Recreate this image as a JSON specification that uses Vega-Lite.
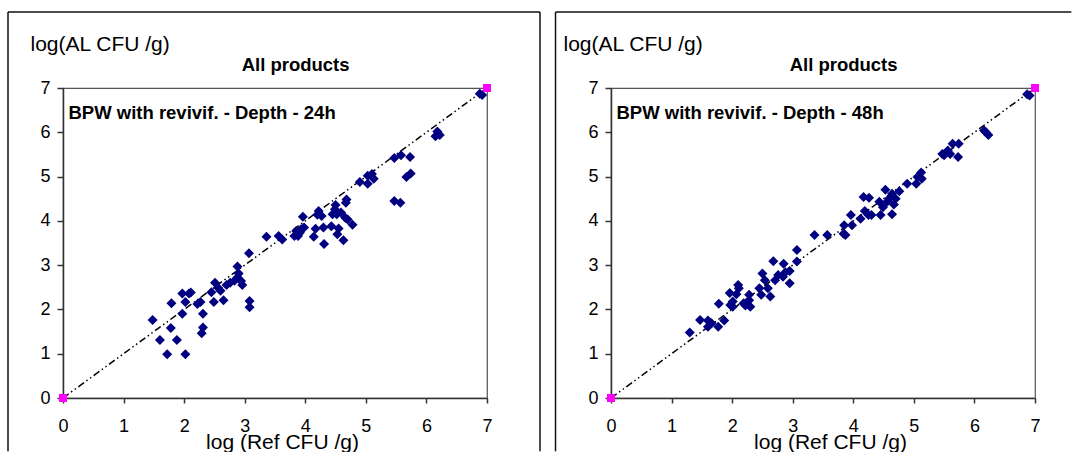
{
  "$schema": "https://vega.github.io/schema/vega-lite/v6.json",
  "background": "white",
  "padding": {"left": 6, "top": 10, "right": 0, "bottom": 0},
  "spacing": 12,
  "config": {
    "font": "Liberation Sans",
    "view": {"stroke": "#555", "strokeWidth": 1.2},
    "axis": {"grid": false, "domainColor": "#333", "domainWidth": 1.5, "tickColor": "#333", "tickWidth": 1.5, "labelFont": "Liberation Sans", "labelFontSize": 18, "labelColor": "#000", "titleFont": "Liberation Sans", "titleFontSize": 21, "titleFontWeight": "normal", "titleColor": "#000", "labelFlush": false, "labelOverlap": false, "format": "d"},
    "axisX": {"tickSize": 5, "labelPadding": 28, "labelBaseline": "alphabetic", "titleX": 219, "titleY": 50, "titleBaseline": "alphabetic", "titleAlign": "center"},
    "axisY": {"tickSize": 6, "labelPadding": 7, "titleAngle": 0, "titleAlign": "left", "titleBaseline": "alphabetic", "titleY": -38}
  },
  "datasets": {
    "d24": [
      {"ref":1.48,"al":1.76},{"ref":1.60,"al":1.31},{"ref":1.72,"al":0.99},{"ref":1.78,"al":1.58},{"ref":1.79,"al":2.14},{"ref":1.88,"al":1.31},{"ref":1.97,"al":1.90},{"ref":1.97,"al":2.36},{"ref":2.02,"al":0.99},{"ref":2.02,"al":2.17},{"ref":2.08,"al":2.36},{"ref":2.11,"al":2.38},{"ref":2.22,"al":2.12},{"ref":2.27,"al":2.17},{"ref":2.31,"al":1.90},{"ref":2.31,"al":1.59},{"ref":2.29,"al":1.46},{"ref":2.45,"al":2.39},{"ref":2.49,"al":2.17},{"ref":2.51,"al":2.60},{"ref":2.56,"al":2.49},{"ref":2.60,"al":2.42},{"ref":2.65,"al":2.21},{"ref":2.70,"al":2.55},{"ref":2.76,"al":2.60},{"ref":2.83,"al":2.65},{"ref":2.88,"al":2.97},{"ref":2.88,"al":2.72},{"ref":2.90,"al":2.81},{"ref":2.94,"al":2.64},{"ref":2.96,"al":2.55},{"ref":3.07,"al":3.27},{"ref":3.08,"al":2.19},{"ref":3.08,"al":2.05},{"ref":3.36,"al":3.64},{"ref":3.56,"al":3.66},{"ref":3.62,"al":3.58},{"ref":3.82,"al":3.66},{"ref":3.85,"al":3.77},{"ref":3.88,"al":3.66},{"ref":3.91,"al":3.73},{"ref":3.93,"al":3.81},{"ref":3.98,"al":3.85},{"ref":3.96,"al":4.09},{"ref":4.14,"al":3.64},{"ref":4.17,"al":3.82},{"ref":4.20,"al":4.14},{"ref":4.22,"al":4.22},{"ref":4.27,"al":4.11},{"ref":4.30,"al":3.85},{"ref":4.31,"al":3.48},{"ref":4.43,"al":3.88},{"ref":4.45,"al":4.15},{"ref":4.49,"al":4.26},{"ref":4.50,"al":4.36},{"ref":4.52,"al":4.15},{"ref":4.55,"al":3.83},{"ref":4.53,"al":3.70},{"ref":4.59,"al":4.19},{"ref":4.63,"al":3.56},{"ref":4.66,"al":4.07},{"ref":4.67,"al":4.41},{"ref":4.68,"al":4.48},{"ref":4.70,"al":4.03},{"ref":4.78,"al":3.91},{"ref":4.90,"al":4.88},{"ref":5.03,"al":5.02},{"ref":5.03,"al":4.84},{"ref":5.10,"al":5.06},{"ref":5.13,"al":4.95},{"ref":5.47,"al":5.42},{"ref":5.58,"al":5.48},{"ref":5.73,"al":5.44},{"ref":5.67,"al":4.99},{"ref":5.74,"al":5.07},{"ref":5.47,"al":4.45},{"ref":5.57,"al":4.41},{"ref":6.15,"al":5.91},{"ref":6.18,"al":6.02},{"ref":6.22,"al":5.94},{"ref":6.88,"al":6.87},{"ref":6.92,"al":6.84}
    ],
    "d48": [
      {"ref":1.30,"al":1.48},{"ref":1.47,"al":1.76},{"ref":1.60,"al":1.75},{"ref":1.60,"al":1.61},{"ref":1.66,"al":1.69},{"ref":1.77,"al":1.61},{"ref":1.78,"al":2.13},{"ref":1.87,"al":1.75},{"ref":1.96,"al":2.37},{"ref":1.97,"al":2.10},{"ref":2.01,"al":2.18},{"ref":2.01,"al":2.06},{"ref":2.10,"al":2.55},{"ref":2.11,"al":2.48},{"ref":2.07,"al":2.34},{"ref":2.19,"al":2.14},{"ref":2.22,"al":2.09},{"ref":2.28,"al":2.33},{"ref":2.28,"al":2.21},{"ref":2.30,"al":2.06},{"ref":2.45,"al":2.48},{"ref":2.48,"al":2.33},{"ref":2.50,"al":2.81},{"ref":2.54,"al":2.66},{"ref":2.59,"al":2.48},{"ref":2.63,"al":2.29},{"ref":2.68,"al":3.09},{"ref":2.71,"al":2.66},{"ref":2.76,"al":2.78},{"ref":2.85,"al":3.03},{"ref":2.84,"al":2.74},{"ref":2.88,"al":2.84},{"ref":2.95,"al":2.87},{"ref":2.95,"al":2.59},{"ref":3.07,"al":3.34},{"ref":3.07,"al":3.08},{"ref":3.36,"al":3.68},{"ref":3.57,"al":3.68},{"ref":3.84,"al":3.71},{"ref":3.85,"al":3.90},{"ref":3.87,"al":3.68},{"ref":3.98,"al":3.90},{"ref":3.96,"al":4.13},{"ref":4.12,"al":4.05},{"ref":4.17,"al":4.54},{"ref":4.26,"al":4.52},{"ref":4.19,"al":4.22},{"ref":4.25,"al":4.13},{"ref":4.30,"al":4.13},{"ref":4.43,"al":4.43},{"ref":4.45,"al":4.13},{"ref":4.49,"al":4.31},{"ref":4.53,"al":4.70},{"ref":4.56,"al":4.43},{"ref":4.59,"al":4.50},{"ref":4.64,"al":4.61},{"ref":4.64,"al":4.15},{"ref":4.67,"al":4.37},{"ref":4.70,"al":4.50},{"ref":4.76,"al":4.67},{"ref":4.89,"al":4.84},{"ref":5.04,"al":4.84},{"ref":5.06,"al":4.99},{"ref":5.13,"al":4.95},{"ref":5.12,"al":5.09},{"ref":5.47,"al":5.51},{"ref":5.50,"al":5.48},{"ref":5.56,"al":5.59},{"ref":5.64,"al":5.74},{"ref":5.60,"al":5.51},{"ref":5.74,"al":5.74},{"ref":5.73,"al":5.44},{"ref":6.16,"al":6.04},{"ref":6.19,"al":6.00},{"ref":6.23,"al":5.94},{"ref":6.87,"al":6.86},{"ref":6.91,"al":6.83}
    ],
    "line": [{"ref":0,"al":0},{"ref":7,"al":7}],
    "one": [{}]
  },
  "hconcat": [
    {
      "width": 424, "height": 310,
      "layer": [
        {
          "data": {"name": "one"},
          "mark": {"type": "rule", "color": "#111", "strokeWidth": 1.5, "clip": false},
          "encoding": {
            "x": {"datum": -0.908, "type": "quantitative", "scale": {"domain": [0, 7], "nice": false, "zero": false}, "axis": {"values": [0,1,2,3,4,5,6,7], "title": "log (Ref CFU /g)"}},
            "y": {"datum": -1.2, "type": "quantitative", "scale": {"domain": [0, 7], "nice": false, "zero": false}, "axis": {"values": [0,1,2,3,4,5,6,7], "title": "log(AL CFU /g)", "titleX": -33}},
            "y2": {"datum": 8.716}
          }
        },
        {
          "data": {"name": "one"},
          "mark": {"type": "rule", "color": "#111", "strokeWidth": 1.5, "clip": false},
          "encoding": {"x": {"datum": 7.875, "type": "quantitative"}, "y": {"datum": -1.2, "type": "quantitative"}, "y2": {"datum": 8.716}}
        },
        {
          "data": {"name": "one"},
          "mark": {"type": "rule", "color": "#111", "strokeWidth": 1.5, "clip": false},
          "encoding": {"x": {"datum": -0.908, "type": "quantitative"}, "x2": {"datum": 7.875}, "y": {"datum": 8.716, "type": "quantitative"}}
        },
        {
          "data": {"name": "line"},
          "mark": {"type": "line", "color": "#000", "strokeWidth": 1.5, "strokeDash": [7, 3, 1.5, 3, 1.5, 3]},
          "encoding": {"x": {"field": "ref", "type": "quantitative"}, "y": {"field": "al", "type": "quantitative"}}
        },
        {
          "data": {"name": "d24"},
          "mark": {"type": "point", "shape": "diamond", "filled": true, "color": "#000080", "size": 100, "opacity": 1},
          "encoding": {"x": {"field": "ref", "type": "quantitative"}, "y": {"field": "al", "type": "quantitative"}}
        },
        {
          "data": {"name": "line"},
          "mark": {"type": "point", "shape": "square", "filled": true, "color": "#FF00FF", "size": 64, "opacity": 1, "clip": false},
          "encoding": {"x": {"field": "ref", "type": "quantitative"}, "y": {"field": "al", "type": "quantitative"}}
        },
        {
          "data": {"name": "one"},
          "mark": {"type": "text", "text": "All products", "font": "Liberation Sans", "fontSize": 18.5, "fontWeight": "bold", "align": "center", "baseline": "alphabetic", "color": "#000", "clip": false},
          "encoding": {"x": {"datum": 3.84, "type": "quantitative"}, "y": {"datum": 7.38, "type": "quantitative"}}
        },
        {
          "data": {"name": "one"},
          "mark": {"type": "text", "text": "BPW with revivif. - Depth - 24h", "font": "Liberation Sans", "fontSize": 18.5, "fontWeight": "bold", "align": "left", "baseline": "alphabetic", "color": "#000"},
          "encoding": {"x": {"datum": 0.09, "type": "quantitative"}, "y": {"datum": 6.29, "type": "quantitative"}}
        }
      ]
    },
    {
      "width": 424, "height": 310,
      "layer": [
        {
          "data": {"name": "one"},
          "mark": {"type": "rule", "color": "#111", "strokeWidth": 1.5, "clip": false},
          "encoding": {
            "x": {"datum": -0.916, "type": "quantitative", "scale": {"domain": [0, 7], "nice": false, "zero": false}, "axis": {"values": [0,1,2,3,4,5,6,7], "title": "log (Ref CFU /g)"}},
            "y": {"datum": -1.2, "type": "quantitative", "scale": {"domain": [0, 7], "nice": false, "zero": false}, "axis": {"values": [0,1,2,3,4,5,6,7], "title": "log(AL CFU /g)", "titleX": -48}},
            "y2": {"datum": 8.716}
          }
        },
        {
          "data": {"name": "one"},
          "mark": {"type": "rule", "color": "#111", "strokeWidth": 1.5, "clip": false},
          "encoding": {"x": {"datum": -0.916, "type": "quantitative"}, "x2": {"datum": 7.6}, "y": {"datum": 8.716, "type": "quantitative"}}
        },
        {
          "data": {"name": "line"},
          "mark": {"type": "line", "color": "#000", "strokeWidth": 1.5, "strokeDash": [7, 3, 1.5, 3, 1.5, 3]},
          "encoding": {"x": {"field": "ref", "type": "quantitative"}, "y": {"field": "al", "type": "quantitative"}}
        },
        {
          "data": {"name": "d48"},
          "mark": {"type": "point", "shape": "diamond", "filled": true, "color": "#000080", "size": 100, "opacity": 1},
          "encoding": {"x": {"field": "ref", "type": "quantitative"}, "y": {"field": "al", "type": "quantitative"}}
        },
        {
          "data": {"name": "line"},
          "mark": {"type": "point", "shape": "square", "filled": true, "color": "#FF00FF", "size": 64, "opacity": 1, "clip": false},
          "encoding": {"x": {"field": "ref", "type": "quantitative"}, "y": {"field": "al", "type": "quantitative"}}
        },
        {
          "data": {"name": "one"},
          "mark": {"type": "text", "text": "All products", "font": "Liberation Sans", "fontSize": 18.5, "fontWeight": "bold", "align": "center", "baseline": "alphabetic", "color": "#000", "clip": false},
          "encoding": {"x": {"datum": 3.84, "type": "quantitative"}, "y": {"datum": 7.38, "type": "quantitative"}}
        },
        {
          "data": {"name": "one"},
          "mark": {"type": "text", "text": "BPW with revivif. - Depth - 48h", "font": "Liberation Sans", "fontSize": 18.5, "fontWeight": "bold", "align": "left", "baseline": "alphabetic", "color": "#000"},
          "encoding": {"x": {"datum": 0.09, "type": "quantitative"}, "y": {"datum": 6.29, "type": "quantitative"}}
        }
      ]
    }
  ]
}
